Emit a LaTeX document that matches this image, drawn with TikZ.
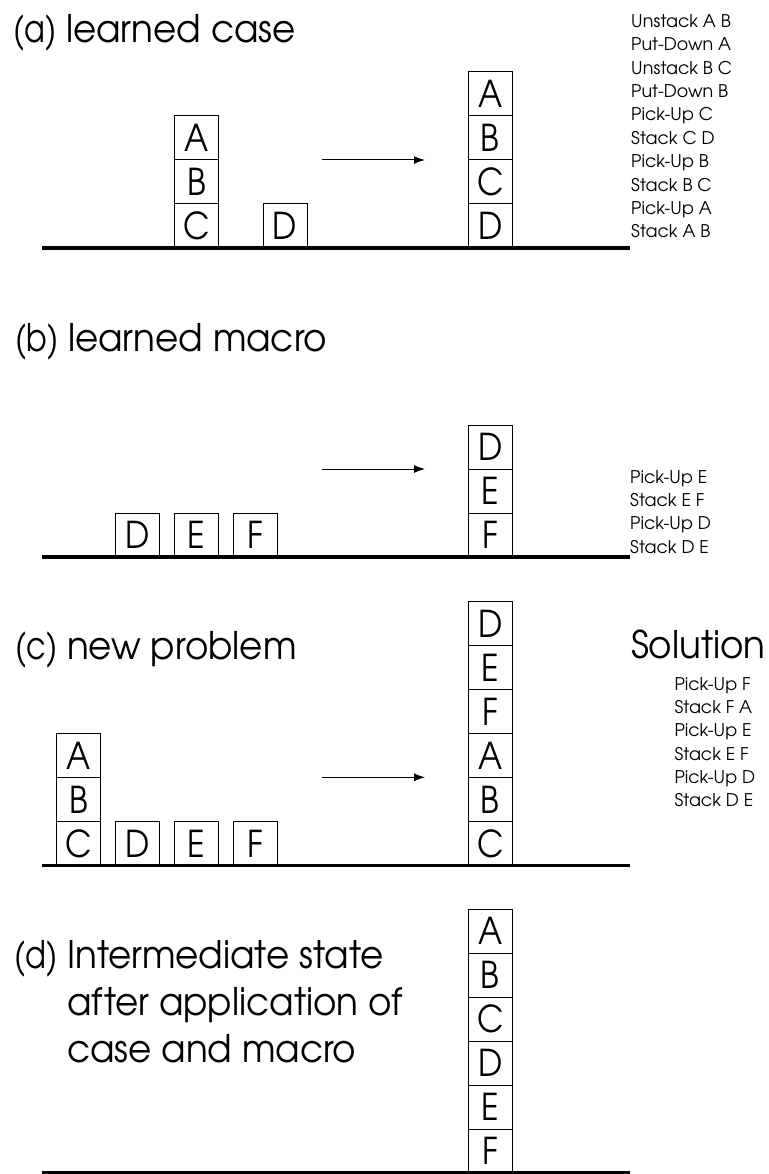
\documentclass[tikz,border=0pt]{standalone}
\usepackage{fontspec}
\setmainfont{texgyreadventor}[Extension=.otf, UprightFont=*-regular, BoldFont=*-bold]
\newfontfamily\narrowfont{texgyreadventor}[Extension=.otf, UprightFont=*-regular, FakeStretch=0.94]
\newfontfamily\blockfont{texgyreadventor}[Extension=.otf, UprightFont=*-regular, FakeStretch=0.88]
\newfontfamily\tagfont{texgyreadventor}[Extension=.otf, UprightFont=*-regular, FakeStretch=0.8]
\usetikzlibrary{arrows.meta}
% panel label in parentheses, set a little narrower than the title text
\newcommand\plabel[1]{{\tagfont(#1)} }

\begin{document}
\begin{tikzpicture}[x=1pt, y=-1pt,
  blk/.style={draw, line width=1pt, minimum width=44pt, minimum height=44pt,
    inner sep=0pt, font=\blockfont\fontsize{37}{37}\selectfont, text height=27pt, text depth=0pt},
  title/.style={anchor=base west, inner sep=0pt, font=\narrowfont\fontsize{38}{40}\selectfont},
  cmd/.style={anchor=base west, inner sep=0pt, font=\fontsize{17.5}{20}\selectfont},
  ground/.style={line width=3.5pt},
  arr/.style={line width=1pt, -{Latex[length=11pt, width=8pt]}}]

\useasboundingbox (0,0) rectangle (768,1174);

% ---------- (a) learned case ----------
\node[title] (ta) at (13,43) {\plabel{a}learned case};
\node[blk] (aC) at (196.5,226) {C};
\node[blk] (aB) at (196.5,182) {B};
\node[blk] (aA) at (196.5,138) {A};
\node[blk] (aD) at (285,226) {D};
\node[blk] (a2D) at (490.3,226) {D};
\node[blk] (a2C) at (490.3,182) {C};
\node[blk] (a2B) at (490.3,138) {B};
\node[blk] (a2A) at (490.3,94) {A};
\coordinate (arA1) at (322,160);
\coordinate (arA2) at (425,160);
\draw[arr] (arA1) -- (arA2);
\coordinate (gA1) at (42,248);
\coordinate (gA2) at (630,248);
\draw[ground] (gA1) -- (gA2);
\foreach \t [count=\i from 0] in {Unstack A B, Put-Down A, Unstack B C, Put-Down B,
    Pick-Up C, Stack C D, Pick-Up B, Stack B C, Pick-Up A, Stack A B}
  \node[cmd] (la\i) at (631,27.3+23.4*\i) {\t};

% ---------- (b) learned macro ----------
\node[title] (tb) at (15,351) {\plabel{b}learned macro};
\node[blk] (bD) at (137.5,535) {D};
\node[blk] (bE) at (196.3,535) {E};
\node[blk] (bF) at (255.3,535) {F};
\node[blk] (b2F) at (490.3,535) {F};
\node[blk] (b2E) at (490.3,491) {E};
\node[blk] (b2D) at (490.3,447) {D};
\coordinate (arB1) at (322,469);
\coordinate (arB2) at (425,469);
\draw[arr] (arB1) -- (arB2);
\coordinate (gB1) at (42,557);
\coordinate (gB2) at (630,557);
\draw[ground] (gB1) -- (gB2);
\foreach \t [count=\i from 0] in {Pick-Up E, Stack E F, Pick-Up D, Stack D E}
  \node[cmd] (lb\i) at (630,483.3+23.3*\i) {\t};

% ---------- (c) new problem ----------
\node[title] (tc) at (15,659.5) {\plabel{c}new problem};
\node[blk] (cC) at (78.8,843.5) {C};
\node[blk] (cB) at (78.8,799.5) {B};
\node[blk] (cA) at (78.8,755.5) {A};
\node[blk] (cD) at (137.5,843.5) {D};
\node[blk] (cE) at (196.3,843.5) {E};
\node[blk] (cF) at (255.3,843.5) {F};
\node[blk] (c2C) at (490.3,843.5) {C};
\node[blk] (c2B) at (490.3,799.5) {B};
\node[blk] (c2A) at (490.3,755.5) {A};
\node[blk] (c2F) at (490.3,711.5) {F};
\node[blk] (c2E) at (490.3,667.5) {E};
\node[blk] (c2D) at (490.3,623.5) {D};
\coordinate (arC1) at (322,777.3);
\coordinate (arC2) at (425,777.3);
\draw[arr] (arC1) -- (arC2);
\coordinate (gC1) at (42,865.5);
\coordinate (gC2) at (630,865.5);
\draw[ground] (gC1) -- (gC2);
\node[title] (sol) at (631,658.3) {Solution};
\foreach \t [count=\i from 0] in {Pick-Up F, Stack F A, Pick-Up E, Stack E F, Pick-Up D, Stack D E}
  \node[cmd] (lc\i) at (674.3,690+23.34*\i) {\t};

% ---------- (d) intermediate state ----------
% the label hangs to the left; the three text lines share one left edge
\node[title] (td0) at (14,968) {\tagfont(d)};
\node[title] (td1) at (67,968) {Intermediate state};
\node[title] (td2) at (67,1015) {after application of};
\node[title] (td3) at (67,1062) {case and macro};
\node[blk] (dF) at (490.3,1151) {F};
\node[blk] (dE) at (490.3,1107) {E};
\node[blk] (dD) at (490.3,1063) {D};
\node[blk] (dC) at (490.3,1019) {C};
\node[blk] (dB) at (490.3,975) {B};
\node[blk] (dA) at (490.3,931) {A};
\coordinate (gD1) at (42,1173);
\coordinate (gD2) at (630,1173);
\draw[ground] (gD1) -- (gD2);
\end{tikzpicture}
\end{document}
